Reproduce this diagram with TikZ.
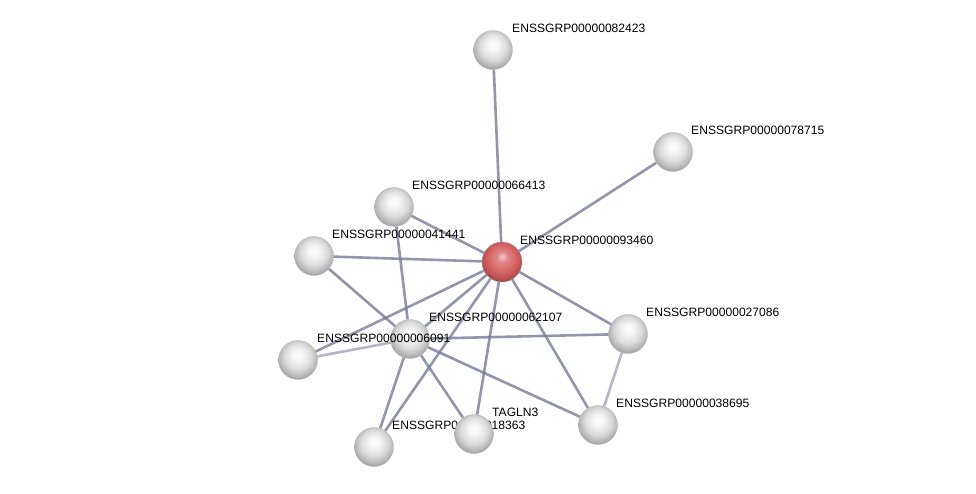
\documentclass[tikz,border=0pt]{standalone}
\usepackage{fontspec}
\setmainfont{Liberation Sans}
\usetikzlibrary{positioning,backgrounds}
\definecolor{edgecol}{RGB}{118,124,152}
\definecolor{ballred}{RGB}{214,92,92}
\pgfdeclareradialshading{protball}{\pgfqpoint{0bp}{7bp}}{%
  color(0bp)=(white); color(7bp)=(white!96!black); color(17bp)=(white!86!black);
  color(25bp)=(white!70!black); color(32bp)=(white!52!black); color(50bp)=(white!50!black)}
\pgfdeclareradialshading{hubball}{\pgfqpoint{0bp}{7bp}}{%
  color(0bp)=(white!70!ballred); color(7bp)=(ballred!75!white); color(17bp)=(ballred!95!white);
  color(25bp)=(ballred!85!black); color(32bp)=(ballred!60!black); color(50bp)=(ballred!50!black)}
\tikzset{
  prot/.style={circle,minimum size=39pt,inner sep=0pt,shading=protball,draw=black!30,line width=0.3pt},
  hub/.style={prot,minimum size=40pt,shading=hubball,draw=black!40},
  lbl/.style={inner sep=0pt,font=\fontsize{12.1}{14}\selectfont,anchor=south west},
  link/.style={draw=edgecol,line width=2.6pt,opacity=0.8},
  weak/.style={link,opacity=0.55}
}
\begin{document}
\begin{tikzpicture}[x=1pt,y=-1pt]
\useasboundingbox (0,0) rectangle (976,493);

% proteins and their labels
\node[prot] (n18363) at (374,447) {};
\node[lbl,above right=17pt and 18pt of n18363.center] (l18363) {ENSSGRP00000018363};
\node[prot] (tagln3) at (474,434) {};
\node[lbl,above right=17pt and 18pt of tagln3.center] (ltagln3) {TAGLN3};
\node[prot] (n38695) at (598,425) {};
\node[lbl,above right=17pt and 18pt of n38695.center] (l38695) {ENSSGRP00000038695};
\node[prot] (n27086) at (628,334) {};
\node[lbl,above right=17pt and 18pt of n27086.center] (l27086) {ENSSGRP00000027086};
\node[prot] (n62107) at (410,339) {};
\node[lbl,above right=17pt and 19pt of n62107.center] (l62107) {ENSSGRP00000062107};
\node[prot] (n6091) at (298,360) {};
\node[lbl,above right=17pt and 19pt of n6091.center] (l6091) {ENSSGRP00000006091};
\node[prot] (n41441) at (314,256) {};
\node[lbl,above right=17pt and 18pt of n41441.center] (l41441) {ENSSGRP00000041441};
\node[prot] (n66413) at (394,207) {};
\node[lbl,above right=17pt and 18pt of n66413.center] (l66413) {ENSSGRP00000066413};
\node[prot] (n78715) at (673,152) {};
\node[lbl,above right=17pt and 18pt of n78715.center] (l78715) {ENSSGRP00000078715};
\node[prot] (n82423) at (493,50) {};
\node[lbl,above right=17pt and 19pt of n82423.center] (l82423) {ENSSGRP00000082423};
\node[hub] (n93460) at (502,262) {};
\node[lbl,above right=17pt and 18pt of n93460.center] (l93460) {ENSSGRP00000093460};

% interactions
\begin{scope}[on background layer]
\fill[white] (0,0) rectangle (976,493);
\foreach \p in {n82423,n78715,n66413,n41441,n62107,n6091,n27086,n38695,tagln3,n18363}
  \draw[link] (n93460) -- (\p);
\foreach \p in {n41441,n66413,n27086,n38695,tagln3,n18363}
  \draw[link] (n62107) -- (\p);
\draw[weak] (n62107) -- (n6091);
\draw[weak] (n27086) -- (n38695);
\end{scope}
\end{tikzpicture}
\end{document}
